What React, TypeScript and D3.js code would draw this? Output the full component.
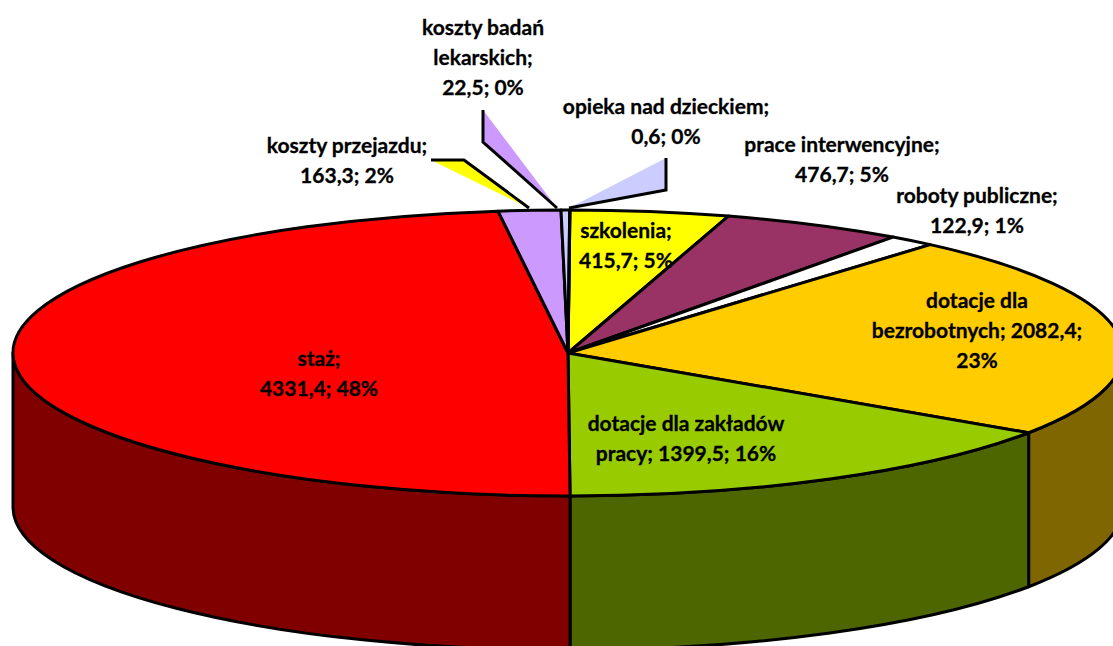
import React from 'react';
import * as d3 from 'd3';

const WIDTH = 1113;
const HEIGHT = 646;

// clockwise from 12 o'clock
const categories = ['szkolenia', 'prace interwencyjne', 'roboty publiczne', 'dotacje dla bezrobotnych', 'dotacje dla zakładów pracy', 'staż', 'koszty przejazdu', 'koszty badań lekarskich', 'opieka nad dzieckiem'];
const values = [415.7, 476.7, 122.9, 2082.4, 1399.5, 4331.4, 163.3, 22.5, 0.6];
const colors = ['#ffff00', '#993366', '#ffffff', '#ffcc00', '#99cc00', '#ff0000', '#cc99ff', '#ccccff', '#ffffff'];

const labelLines = [
  ['szkolenia;', '415,7; 5%'],
  ['prace interwencyjne;', '476,7; 5%'],
  ['roboty publiczne;', '122,9; 1%'],
  ['dotacje dla', 'bezrobotnych; 2082,4;', '23%'],
  ['dotacje dla zakładów', 'pracy; 1399,5; 16%'],
  ['staż;', '4331,4; 48%'],
  ['koszty przejazdu;', '163,3; 2%'],
  ['koszty badań', 'lekarskich;', '22,5; 0%'],
  ['opieka nad dzieckiem;', '0,6; 0%'],
];
const labelX = [626, 842, 977, 977, 686, 319, 347, 483, 666];
const labelY = [238, 152, 203, 308, 431, 366, 153, 35, 114];

// callout wedges: [outer free end, elbow, tip on the pie]
const callouts = [
  { index: 6, fill: '#ffff00', pts: [[431, 160], [464, 160], [529, 208]] },
  { index: 7, fill: '#cc99ff', pts: [[483, 110], [483, 142], [557, 208]] },
  { index: 8, fill: '#ccccff', pts: [[666, 158], [666, 190], [569, 208]] },
];

const cx = 568;
const cy = 353;
const rx = 555;
const ry = 143;
const depth = 154;
const rotation = (0.2 * Math.PI) / 180;

const shade = (c: string) => {
  const col = d3.rgb(c);
  return d3.rgb(col.r / 2, col.g / 2, col.b / 2).formatHex();
};

const point = (a: number) => [cx + rx * Math.sin(a), cy - ry * Math.cos(a)];

export default function App() {
  const pie = d3.pie<number>().sort(null).value(d => d)
    .startAngle(rotation).endAngle(2 * Math.PI + rotation);
  const slices = pie(values);
  const arc = d3.arc<d3.PieArcDatum<number>>().innerRadius(0).outerRadius(rx);

  // only the front half of the rim is visible
  const walls = slices.map((d, i) => {
    const a0 = Math.max(d.startAngle, Math.PI / 2);
    const a1 = Math.min(d.endAngle, (3 * Math.PI) / 2);
    if (a1 <= a0) return null;
    const p0 = point(a0);
    const p1 = point(a1);
    const dStr =
      `M${p0[0]},${p0[1]}A${rx},${ry} 0 0 1 ${p1[0]},${p1[1]}` +
      `L${p1[0]},${p1[1] + depth}A${rx},${ry} 0 0 0 ${p0[0]},${p0[1] + depth}Z`;
    return <path key={i} d={dStr} fill={shade(colors[i])} stroke="#000" strokeWidth={3} strokeLinejoin="round" />;
  });

  return (
    <svg width={WIDTH} height={HEIGHT} style={{ position: 'absolute', left: 0, top: 0, display: 'block' }}>
      <rect width={WIDTH} height={HEIGHT} fill="#fff" />
      <g>{walls}</g>
      <g transform={`translate(${cx},${cy}) scale(1,${ry / rx})`}>
        {slices.map((d, i) => (
          <path
            key={categories[i]}
            d={arc(d) as string}
            fill={colors[i]}
            stroke="#000"
            strokeWidth={3}
            strokeLinejoin="round"
            vectorEffect="non-scaling-stroke"
          />
        ))}
      </g>
      {callouts.map(c => (
        <g key={c.index}>
          <polygon points={c.pts.map(p => p.join(',')).join(' ')} fill={c.fill} />
          <polyline points={c.pts.map(p => p.join(',')).join(' ')} fill="none" stroke="#000" strokeWidth={3} />
        </g>
      ))}
      <g fontFamily="Lato, 'Open Sans', sans-serif" fontWeight={700} fontSize={21} fill="#000" stroke="#000" strokeWidth={0.3} textAnchor="middle">
        {labelLines.map((lines, i) => (
          <text key={i}>
            {lines.map((l, j) => (
              <tspan key={j} x={labelX[i]} y={labelY[i] + j * 30}>{l}</tspan>
            ))}
          </text>
        ))}
      </g>
    </svg>
  );
}
